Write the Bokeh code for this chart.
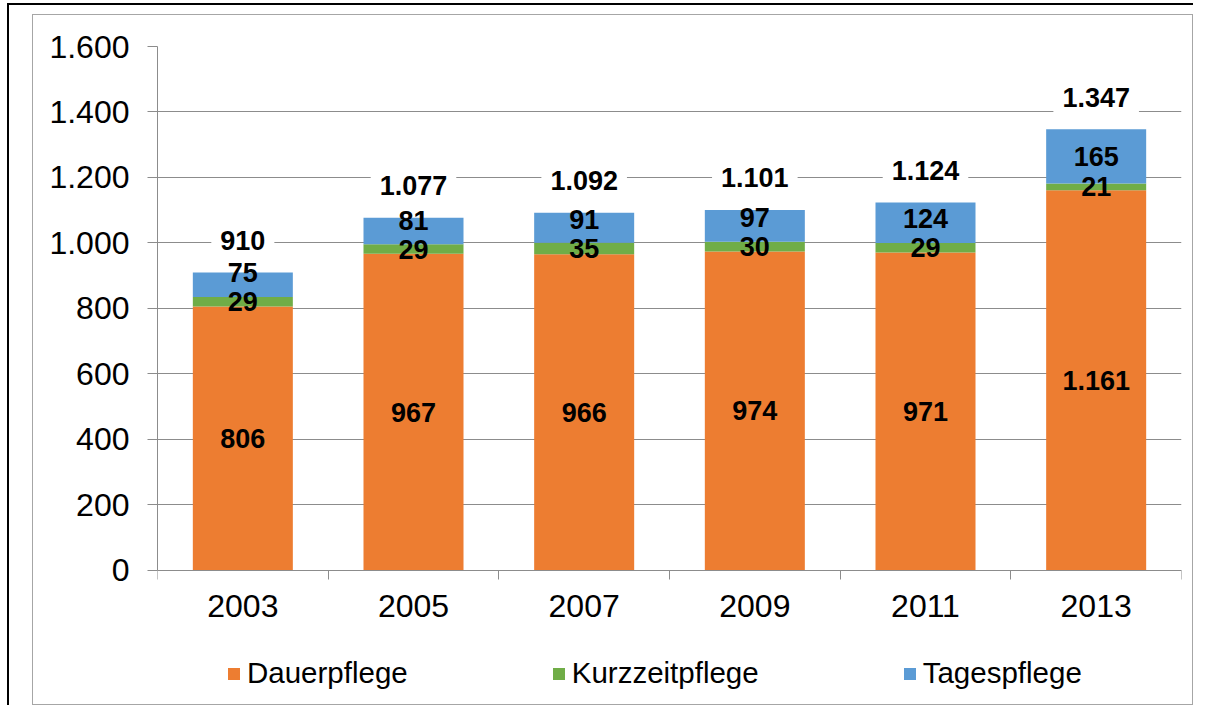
from bokeh.plotting import figure
from bokeh.models import ColumnDataSource, FixedTicker, Legend, LegendItem
from bokeh.layouts import column
from bokeh.core.properties import value
from bokeh.embed import file_html
from bokeh.resources import INLINE

# ---- data ----
years = ["2003", "2005", "2007", "2009", "2011", "2013"]
dauerpflege = [806, 967, 966, 974, 971, 1161]
kurzzeitpflege = [29, 29, 35, 30, 29, 21]
tagespflege = [75, 81, 91, 97, 124, 165]
series_names = ["Dauerpflege", "Kurzzeitpflege", "Tagespflege"]
y_ticks = [0, 200, 400, 600, 800, 1000, 1200, 1400, 1600]
y_tick_labels = ["0", "200", "400", "600", "800", "1.000", "1.200", "1.400", "1.600"]

colors = ["#ED7D31", "#70AD47", "#5B9BD5"]
FONT = "Liberation Sans"


def de(n):
    return f"{n:,}".replace(",", ".")


x = [i + 0.5 for i in range(len(years))]
totals = [a + b + c for a, b, c in zip(dauerpflege, kurzzeitpflege, tagespflege)]

source = ColumnDataSource(dict(
    x=x, d=dauerpflege, k=kurzzeitpflege, t=tagespflege,
))

# frame extends below the value axis to hold categories and legend
Y_MIN = -397
p = figure(width=1161, height=691, x_range=(0, len(years)), y_range=(Y_MIN, 1600),
           output_backend="svg", toolbar_location=None,
           min_border_left=124, min_border_right=13, min_border_top=31,
           min_border_bottom=6)
p.styles = {"border": "1px solid #A6A6A6"}
p.outline_line_color = None
p.background_fill_color = "white"
p.border_fill_color = "white"

renderers = p.vbar_stack(["d", "k", "t"], x="x", width=0.586, color=colors,
                         line_color=None, source=source)

# segment labels
d_mid = [d / 2 for d in dauerpflege]
k_mid = [d + k / 2 for d, k in zip(dauerpflege, kurzzeitpflege)]
t_mid = [d + k + t / 2 for d, k, t in zip(dauerpflege, kurzzeitpflege, tagespflege)]
t_lab = [max(tm, km + 88) for tm, km in zip(t_mid, k_mid)]

lab_src = ColumnDataSource(dict(
    x=x * 3,
    y=d_mid + k_mid + t_lab,
    text=[de(v) for v in dauerpflege + kurzzeitpflege + tagespflege],
))
p.text(x="x", y="y", text="text", source=lab_src, text_font=value(FONT),
       text_font_style="bold", text_font_size="27px", text_color="black",
       text_align="center", text_baseline="middle")

tot_src = ColumnDataSource(dict(x=x, y=totals, text=[de(v) for v in totals]))
p.text(x="x", y="y", text="text", source=tot_src, text_font=value(FONT),
       text_font_style="bold", text_font_size="27px", text_color="black",
       text_align="center", text_baseline="middle", y_offset=-32,
       background_fill_color="white", padding=9)

# axes
p.xaxis.fixed_location = 0
p.xaxis.ticker = FixedTicker(ticks=x, minor_ticks=list(range(len(years) + 1)))
p.xaxis.major_label_overrides = {xx: yy for xx, yy in zip(x, years)}
p.xaxis.major_tick_line_color = None
p.xaxis.major_tick_out = 0
p.xaxis.major_tick_in = 0
p.xaxis.minor_tick_out = 9
p.xaxis.minor_tick_in = 0
p.xaxis.minor_tick_line_color = "#8C8C8C"
p.xaxis.axis_line_color = "#8C8C8C"
p.xaxis.major_label_text_font = FONT
p.xaxis.major_label_text_font_size = "32px"
p.xaxis.major_label_text_color = "black"
p.xaxis.major_label_standoff = 16

p.yaxis.ticker = FixedTicker(ticks=y_ticks)
p.yaxis.bounds = (0, 1600)
p.yaxis.major_label_overrides = {t: l for t, l in zip(y_ticks, y_tick_labels)}
p.yaxis.major_tick_out = 10
p.yaxis.major_tick_in = 0
p.yaxis.minor_tick_line_color = None
p.yaxis.major_tick_line_color = "#8C8C8C"
p.yaxis.axis_line_color = "#8C8C8C"
p.yaxis.major_label_text_font = FONT
p.yaxis.major_label_text_font_size = "32px"
p.yaxis.major_label_text_color = "black"
p.yaxis.major_label_standoff = 18

p.xgrid.grid_line_color = None
p.ygrid.grid_line_color = "#8C8C8C"
p.ygrid.ticker = FixedTicker(ticks=y_ticks)

legend = Legend(items=[LegendItem(label=n, renderers=[r]) for n, r in zip(series_names, renderers)],
                orientation="horizontal", location=(69, 10),
                label_text_font=FONT, label_text_font_size="29.5px",
                label_text_color="black", glyph_width=15, glyph_height=15,
                label_standoff=6, spacing=143, padding=0, margin=0,
                border_line_color=None, background_fill_alpha=0)
p.add_layout(legend, "center")

layout = column(p, styles={"border-top": "2px solid black", "border-left": "2px solid black",
                           "padding": "9px 0 0 23px", "margin": "3px 0 0 7px"})

open("out.html", "w").write(file_html(layout, INLINE))
